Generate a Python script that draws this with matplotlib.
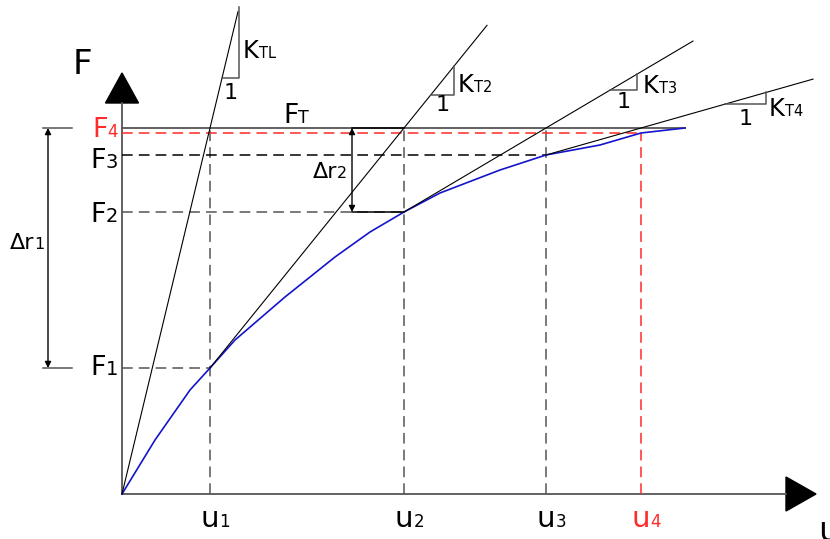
import numpy as np
import matplotlib.pyplot as plt
from matplotlib.patches import Polygon

plt.rcParams['font.family'] = ['DejaVu Sans']

# load-displacement curve (schematic units, origin at the axes corner)
curve_u = [0, 33, 68, 88, 113, 163, 213, 248, 282, 318, 378, 424, 478, 519, 563]
curve_F = [0, 54, 104, 126, 154, 197, 237, 262, 282, 301, 324, 339, 349, 361, 366]

# Newton-Raphson iterates
u_iter = [88, 282, 424, 519]
F_iter = [126, 282, 339, 361]
F_T = 366
u_names = ['1', '2', '3', '4']
F_names = ['1', '2', '3', '4']
K_names = ['TL', 'T2', 'T3', 'T4']

fig = plt.figure(figsize=(8.3, 5.39), dpi=100)
ax = fig.add_axes([0, 0, 1, 1])
ax.set_xlim(-122, 708)
ax.set_ylim(-45, 494)
ax.axis('off')
r = fig.canvas.get_renderer()

GREY = '#555555'
RED = '#ff2a2a'
BLUE = '#1414cc'
dash = (0, (7, 4))


def sub_text(x, y, main, sub, size, subsize, color='k', ha='left', align='all'):
    t1 = ax.text(0, 0, main, fontsize=size, color=color, va='baseline')
    t2 = ax.text(0, 0, sub, fontsize=subsize, color=color, va='baseline')
    w1 = t1.get_window_extent(r).width
    w2 = t2.get_window_extent(r).width
    if align == 'main':
        x0 = x - w1 / 2
    elif ha == 'right':
        x0 = x - w1 - w2
    elif ha == 'center':
        x0 = x - (w1 + w2) / 2
    else:
        x0 = x
    t1.set_position((x0, y))
    t2.set_position((x0 + w1, y))


# axes with filled arrow heads
ax.plot([0, 0], [0, 391], color=GREY, lw=1.3)
ax.plot([0, 664], [0, 0], color=GREY, lw=1.3)
ax.add_patch(Polygon([[-16.5, 391], [16.5, 391], [0, 421]], closed=True, fc='k', ec='k'))
ax.add_patch(Polygon([[664, 17], [664, -17], [694, 0]], closed=True, fc='k', ec='k'))
ax.text(-40, 429, 'F', fontsize=24.5, ha='center', va='center')
ax.text(696, -47, 'u', fontsize=24.5, ha='left', va='baseline', clip_on=False)

# target load level
ax.plot([0, 563], [F_T, F_T], color=GREY, lw=1.3)
sub_text(174, 371, 'F', 'T', 19, 12.5, ha='center')

# projections of the iterates
for i, (u, F) in enumerate(zip(u_iter, F_iter)):
    last = i == len(u_iter) - 1
    c = RED if last else GREY
    hc = RED if last else ('k' if i == 2 else GREY)
    top = F if last else F_T
    ax.plot([u, u], [0, top], color=c, lw=1.1, linestyle=dash)
    ax.plot([0, u], [F, F], color=hc, lw=1.1, linestyle=dash)

# curve
ax.plot(curve_u, curve_F, color=BLUE, lw=1.2)

# tangent stiffness lines
tan_end_u = [116, 365, 571, 691]
tri_start_u = [100, 309, 488, 603]
tri_run = [17, 23, 27, 41]
k_label_dx = [4, 4, 6, 3]
k_label_y = [436, 402, 401, 378]
one_label_y = [395, 383, 386, 369]
starts_u = [0] + u_iter[:-1]
starts_F = [0] + F_iter[:-1]
for i in range(4):
    u0, F0 = starts_u[i], starts_F[i]
    k = (F_T - F0) / (u_iter[i] - u0)
    ue = tan_end_u[i]
    ax.plot([u0, ue], [F0, F0 + k * (ue - u0)], color='k', lw=0.8)
    a = tri_start_u[i]
    b = a + tri_run[i]
    Fa = F0 + k * (a - u0)
    Fb = F0 + k * (b - u0)
    ax.plot([a, b, b], [Fa, Fa, Fb], color=GREY, lw=1.1)
    sub_text(b + k_label_dx[i], k_label_y[i], 'K', K_names[i], 17.5, 10.5)
    ax.text((a + b) / 2, one_label_y[i], '1', fontsize=16, ha='center', va='baseline')

# axis labels for the iterates
F_base = [119, 272, 326, 357]
F_sub = [14, 14, 14, 12]
for i in range(4):
    c = RED if i == 3 else 'k'
    sub_text(-4, F_base[i], 'F', F_names[i], 19.5, F_sub[i], color=c, ha='right')
    sub_text(u_iter[i], -33, 'u', u_names[i], 21, 12, color=c, align='main')

# residual dimension lines
arrow = dict(arrowstyle='<|-|>', color='k', lw=1.0, mutation_scale=9,
             shrinkA=0, shrinkB=0)
ax.annotate('', xy=(-74, F_T), xytext=(-74, F_iter[0]), arrowprops=arrow)
ax.plot([-79, -50], [F_T, F_T], color=GREY, lw=1.1)
ax.plot([-79, -50], [F_iter[0], F_iter[0]], color=GREY, lw=1.1)
sub_text(-95, 245, u'\u0394r', '1', 16, 11.5, ha='center')

ax.annotate('', xy=(230, F_T), xytext=(230, F_iter[1]), arrowprops=arrow)
ax.plot([230, u_iter[1]], [F_T, F_T], color='k', lw=1.1)
ax.plot([230, u_iter[1]], [F_iter[1], F_iter[1]], color='k', lw=1.1)
sub_text(208, 316, u'\u0394r', '2', 16, 11.5, ha='center')

fig.savefig('out.png', dpi=100)
